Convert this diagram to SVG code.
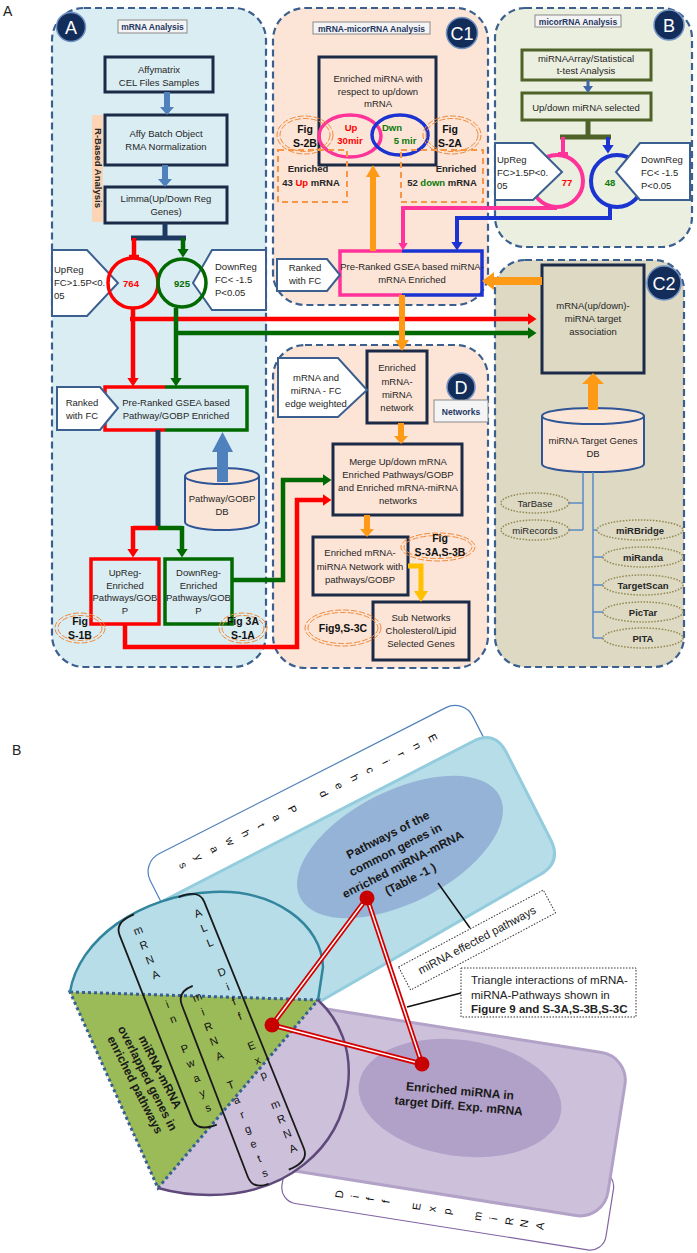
<svg xmlns="http://www.w3.org/2000/svg" width="697" height="1253" viewBox="0 0 697 1253">
<defs>
<style>
text{font-family:"Liberation Sans",Arial,sans-serif}
.t{font-size:9.5px;fill:#262626;text-anchor:middle}
.l{text-anchor:start}
.b{font-weight:bold}
.f{font-size:10.5px;font-weight:bold;fill:#111;text-anchor:middle}
.panel{stroke:#3b5f8f;stroke-width:2.2;stroke-dasharray:7,4}
.box{fill:none;stroke:#1b2a47;stroke-width:3}
.lbl{fill:#f4f4f4;stroke:#8a8a8a;stroke-width:1}
.lt{font-size:8.5px;font-weight:bold;fill:#1f3864;text-anchor:middle}
.badge{fill:#132d5a;stroke:#7393c4;stroke-width:1.5}
.bt{font-size:18px;fill:#fff;text-anchor:middle}
.pent{fill:#fff;stroke:#3b5f8f;stroke-width:2}
.fig{fill:none;stroke:#f08a3a;stroke-width:1;stroke-dasharray:6,2}
.cyl{fill:#fbe5d6;stroke:#2f5597;stroke-width:2}
.olive{fill:none;stroke:#4f6228;stroke-width:3}
.dot{fill:none;stroke:#948a54;stroke-width:1.5;stroke-dasharray:1.5,1.5}
.red{fill:none;stroke:#ff0000;stroke-width:4.5}
.grn{fill:none;stroke:#006a00;stroke-width:4.5}
.nav{fill:none;stroke:#1f3a60;stroke-width:5}
.pink{fill:none;stroke:#ff3399;stroke-width:4}
.blu{fill:none;stroke:#1a33d1;stroke-width:4}
.org{fill:#ff9a16}
.thin{fill:none;stroke:#5b8bc7;stroke-width:1.5}
.dash{fill:none;stroke:#f79646;stroke-width:2;stroke-dasharray:6,4}
.st{font-size:11px;fill:#111;text-anchor:middle}
.brk{fill:none;stroke:#1a1a1a;stroke-width:1.8}
.bt2{font-size:12px;font-weight:bold;fill:#1a1a1a;text-anchor:middle}
.cap{fill:#fff;stroke:#333;stroke-width:1;stroke-dasharray:1.5,1.5}
.ct{font-size:11.5px;fill:#222}
</style>
<marker id="mR" viewBox="0 0 9 12" refX="0.5" refY="6" markerWidth="9" markerHeight="12" markerUnits="userSpaceOnUse" orient="auto"><path d="M0,0 L9,6 L0,12 z" fill="#ff0000"/></marker>
<marker id="mG" viewBox="0 0 9 12" refX="0.5" refY="6" markerWidth="9" markerHeight="12" markerUnits="userSpaceOnUse" orient="auto"><path d="M0,0 L9,6 L0,12 z" fill="#006a00"/></marker>
<marker id="mP" viewBox="0 0 8 10" refX="0.5" refY="5" markerWidth="8" markerHeight="10" markerUnits="userSpaceOnUse" orient="auto"><path d="M0,0 L8,5 L0,10 z" fill="#ff3399"/></marker>
<marker id="mB" viewBox="0 0 9 12" refX="0.5" refY="6" markerWidth="9" markerHeight="12" markerUnits="userSpaceOnUse" orient="auto"><path d="M0,0 L9,6 L0,12 z" fill="#1a33d1"/></marker>
</defs>
<rect width="697" height="1253" fill="#fff"/>
<text x="3" y="16" font-size="14" fill="#222">A</text>
<text x="12" y="755" font-size="14" fill="#222">B</text>

<!-- Panels -->
<g id="panelA">
<rect x="52" y="8" width="214" height="659" rx="32" fill="#daedf3" class="panel"/>
<rect class="lbl" x="118" y="20" width="69" height="13"/><text class="lt" x="152.5" y="30">mRNA Analysis</text>
<circle class="badge" cx="71" cy="27" r="14.5"/><text class="bt" x="71" y="33.5">A</text>
</g>
<g id="panelC1">
<rect x="273" y="8" width="215" height="297" rx="32" fill="#fce4d6" class="panel"/>
<rect class="lbl" x="313" y="22" width="117" height="12"/><text class="lt" x="371.5" y="31.5">mRNA-micorRNA Analysis</text>
<circle class="badge" cx="462" cy="33" r="15.5"/><text class="bt" x="462" y="39.5">C1</text>
</g>
<g id="panelB">
<rect x="495" y="8" width="197" height="239" rx="30" fill="#ebefdf" class="panel"/>
<rect class="lbl" x="535" y="15" width="86" height="12"/><text class="lt" x="578" y="24.5">micorRNA Analysis</text>
<circle class="badge" cx="669" cy="25" r="15"/><text class="bt" x="669" y="31.5">B</text>
</g>
<g id="panelC2">
<rect x="495" y="260" width="189" height="407" rx="30" fill="#ddd9c3" class="panel"/>
<circle class="badge" cx="664" cy="283" r="17"/><text class="bt" x="664" y="289.5">C2</text>
</g>
<g id="panelD">
<rect x="273" y="345" width="215" height="323" rx="32" fill="#fce4d6" class="panel"/>
<circle class="badge" cx="461" cy="387" r="14"/><text class="bt" x="461" y="393.5">D</text>
<rect class="lbl" x="434" y="400" width="54" height="22"/><text class="lt" x="461" y="415" font-size="9">Networks</text>
</g>

<!-- Panel A nodes -->
<g id="affy"><rect class="box" x="105" y="57" width="108" height="35"/><text class="t" x="159" y="73">Affymatrix</text><text class="t" x="159" y="86">CEL Files Samples</text></g>
<g id="rbased"><rect x="92" y="115" width="11" height="107" fill="#fbd5b5"/><text class="t b" font-size="8" transform="translate(94.5,168) rotate(90)">R-Based Analysis</text></g>
<g id="affybatch"><rect class="box" x="105" y="115" width="122" height="50"/><text class="t" x="166" y="137">Affy Batch Object</text><text class="t" x="166" y="150">RMA Normalization</text></g>
<g id="limma"><rect class="box" x="105" y="187" width="122" height="36"/><text class="t" x="166" y="202">Limma(Up/Down Reg</text><text class="t" x="166" y="215">Genes)</text></g>
<g id="upA"><path class="pent" d="M52,250 H87 L118,283 L87,316 H52 Z"/><text class="t l" x="54" y="273">UpReg</text><text class="t l" x="54" y="286">FC&gt;1.5P&lt;0.</text><text class="t l" x="54" y="299">05</text></g>
<g id="downA"><path class="pent" d="M266,250 H212 L193,283 L212,310 H266 Z"/><text class="t l" x="215" y="270">DownReg</text><text class="t l" x="215" y="283">FC&lt; -1.5</text><text class="t l" x="215" y="296">P&lt;0.05</text></g>
<g id="c764"><circle cx="133" cy="283" r="25" fill="none" stroke="#ff0000" stroke-width="3.5"/><text class="t b" x="131" y="287" style="fill:#ff0000">764</text></g>
<g id="c925"><circle cx="182" cy="283" r="24" fill="none" stroke="#006a00" stroke-width="3.5"/><text class="t b" x="182" y="287" style="fill:#006a00">925</text></g>
<g id="gseaA"><path d="M165,387 H105 V430 H165" fill="none" stroke="#ff0000" stroke-width="3.5"/><path d="M165,387 H247 V430 H165" fill="none" stroke="#006a00" stroke-width="3.5"/><text class="t" x="176" y="406">Pre-Ranked GSEA based</text><text class="t" x="176" y="419">Pathway/GOBP Enriched</text></g>
<g id="rankA"><path class="pent" d="M57,387 H100 L118,408 L100,430 H57 Z"/><text class="t" x="82" y="406">Ranked</text><text class="t" x="82" y="419">with FC</text></g>
<g id="pathdb"><path class="cyl" d="M185,476 V522 A37,8 0 0 0 259,522 V476"/><ellipse class="cyl" cx="222" cy="476" rx="37" ry="8"/><text class="t" x="222" y="502">Pathway/GOBP</text><text class="t" x="222" y="515">DB</text></g>
<g id="upEnr"><rect x="91" y="559" width="68" height="65" fill="none" stroke="#ff0000" stroke-width="3.5"/><text class="t" x="125" y="576">UpReg-</text><text class="t" x="125" y="589">Enriched</text><text class="t" x="125" y="601">Pathways/GOB</text><text class="t" x="125" y="614">P</text></g>
<g id="downEnr"><rect x="165" y="559" width="67" height="65" fill="none" stroke="#006a00" stroke-width="3.5"/><text class="t" x="198.5" y="576">DownReg-</text><text class="t" x="198.5" y="589">Enriched</text><text class="t" x="198.5" y="601">Pathways/GOB</text><text class="t" x="198.5" y="614">P</text></g>
<g id="figS1B"><ellipse class="fig" cx="80" cy="628" rx="25" ry="15"/><ellipse class="fig" cx="80" cy="628" rx="22" ry="12.5"/><text class="f" x="80" y="625">Fig</text><text class="f" x="80" y="639">S-1B</text></g>
<g id="figS1A"><ellipse class="fig" cx="243" cy="628" rx="24" ry="15"/><ellipse class="fig" cx="243" cy="628" rx="21" ry="12.5"/><text class="f" x="243" y="625">Fig 3A</text><text class="f" x="243" y="639">S-1A</text></g>

<!-- C1 nodes -->
<g id="enrMir"><rect class="box" x="319" y="57" width="117" height="108"/><text class="t" x="378" y="82">Enriched miRNA with</text><text class="t" x="378" y="95">respect to up/down</text><text class="t" x="378" y="107">mRNA</text>
<ellipse cx="350" cy="136" rx="31" ry="21" fill="none" stroke="#ff3399" stroke-width="3.5"/><ellipse cx="400" cy="135" rx="28" ry="20" fill="none" stroke="#1a33d1" stroke-width="3.5"/>
<text class="t b" x="351" y="131" style="fill:#ff0000">Up</text><text class="t b" x="350" y="144" style="fill:#ff0000">30mir</text><text class="t b" x="392" y="131" style="fill:#0a7a0a">Dwn</text><text class="t b" x="405" y="144" style="fill:#0a7a0a">5 mir</text></g>
<g id="figS2B"><ellipse class="fig" cx="305" cy="135" rx="28" ry="19"/><ellipse class="fig" cx="305" cy="135" rx="25" ry="16.5"/><text class="f" x="305" y="133">Fig</text><text class="f" x="305" y="147">S-2B</text></g>
<g id="figS2A"><ellipse class="fig" cx="452" cy="135" rx="29" ry="19"/><ellipse class="fig" cx="452" cy="135" rx="26" ry="16.5"/><text class="f" x="450" y="133">Fig</text><text class="f" x="450" y="147">S-2A</text></g>
<g id="enr43"><rect class="dash" x="278" y="150" width="69" height="52"/><text class="t b" x="308" y="172">Enriched</text><text class="t b" x="311" y="186">43 <tspan style="fill:#ff0000">Up</tspan> mRNA</text></g>
<g id="enr52"><rect class="dash" x="401" y="150" width="82" height="52"/><text class="t b" x="456" y="172">Enriched</text><text class="t b" x="442" y="186">52 <tspan style="fill:#0a7a0a">down</tspan> mRNA</text></g>
<g id="gseaMir"><path d="M402,251 H340 V295 H402" fill="none" stroke="#ff3399" stroke-width="3.5"/><path d="M402,251 H482 V295 H402" fill="none" stroke="#1a33d1" stroke-width="3.5"/><text class="t" x="412" y="270">Pre-Ranked GSEA based miRNA-</text><text class="t" x="412" y="283">mRNA  Enriched</text></g>
<g id="rankC1"><path class="pent" d="M277,259 H327 L340,275 L327,291 H277 Z"/><text class="t" x="305" y="271">Ranked</text><text class="t" x="305" y="284">with FC</text></g>

<!-- B nodes -->
<g id="miArray"><rect class="olive" x="522" y="50" width="129" height="30"/><text class="t" x="586" y="62">miRNAArray/Statistical</text><text class="t" x="586" y="74">t-test Analysis</text></g>
<g id="miSel"><rect class="olive" x="522" y="93" width="129" height="27"/><text class="t" x="586" y="111">Up/down miRNA selected</text></g>
<g id="c77"><circle cx="557" cy="181" r="26" fill="none" stroke="#ff3399" stroke-width="4"/><text class="t b" x="567" y="186" style="fill:#ff0000">77</text></g>
<g id="c48"><circle cx="617" cy="181" r="26" fill="none" stroke="#1a33d1" stroke-width="4"/><text class="t b" x="610" y="186" style="fill:#0a7a0a">48</text></g>
<g id="upB"><path class="pent" d="M495,143 H533 L562,172 L533,200 H495 Z"/><text class="t l" x="497" y="163">UpReg</text><text class="t l" x="497" y="176">FC&gt;1.5P&lt;0.</text><text class="t l" x="497" y="189">05</text></g>
<g id="downB"><path class="pent" d="M690,143 H640 L616,172 L640,200 H690 Z"/><text class="t l" x="641" y="163">DownReg</text><text class="t l" x="641" y="176">FC&lt; -1.5</text><text class="t l" x="641" y="189">P&lt;0.05</text></g>

<!-- C2 nodes -->
<g id="assoc"><rect class="box" x="542" y="265" width="102" height="108"/><text class="t" x="593" y="309">mRNA(up/down)-</text><text class="t" x="593" y="322">miRNA target</text><text class="t" x="593" y="335">association</text></g>
<g id="tgdb"><path class="cyl" d="M542,416 V464 A51,8 0 0 0 644,464 V416"/><ellipse class="cyl" cx="593" cy="416" rx="51" ry="8"/><text class="t" x="593" y="444">miRNA Target Genes</text><text class="t" x="593" y="457">DB</text></g>
<g id="dbs">
<ellipse class="dot" cx="535" cy="503" rx="34" ry="10"/><text class="t" x="535" y="507">TarBase</text>
<ellipse class="dot" cx="535" cy="530" rx="34" ry="10"/><text class="t" x="535" y="534">miRecords</text>
<ellipse class="dot" cx="640" cy="530" rx="43" ry="10"/><text class="t b" x="640" y="534">miRBridge</text>
<ellipse class="dot" cx="643" cy="557" rx="40" ry="10"/><text class="t b" x="643" y="561">miRanda</text>
<ellipse class="dot" cx="643" cy="585" rx="40" ry="10"/><text class="t b" x="643" y="589">TargetScan</text>
<ellipse class="dot" cx="643" cy="612" rx="40" ry="10"/><text class="t b" x="643" y="616">PicTar</text>
<ellipse class="dot" cx="643" cy="638" rx="40" ry="10"/><text class="t b" x="643" y="642">PITA</text>
</g>

<!-- D nodes -->
<g id="netw"><rect class="box" x="367" y="351" width="60" height="72"/><text class="t" x="397" y="371">Enriched</text><text class="t" x="397" y="385">mRNA-</text><text class="t" x="397" y="398">miRNA</text><text class="t" x="397" y="411">network</text></g>
<g id="fcw"><path class="pent" d="M278,358 H338 L367,390 L338,417 H278 Z"/><text class="t" x="316" y="381">mRNA and</text><text class="t" x="316" y="394">miRNA - FC</text><text class="t" x="316" y="407">edge weighted</text></g>
<g id="merge"><rect class="box" x="333" y="444" width="129" height="71"/><text class="t" x="398" y="465">Merge Up/down mRNA</text><text class="t" x="398" y="478">Enriched Pathways/GOBP</text><text class="t" x="398" y="491">and Enriched mRNA-miRNA</text><text class="t" x="398" y="504">networks</text></g>
<g id="netpw"><rect class="box" x="313" y="537" width="95" height="58"/><text class="t" x="360" y="556">Enriched mRNA-</text><text class="t" x="360" y="570">miRNA Network with</text><text class="t" x="360" y="583">pathways/GOBP</text></g>
<g id="figS3"><ellipse class="fig" cx="438" cy="547" rx="37" ry="14"/><ellipse class="fig" cx="438" cy="547" rx="34" ry="11.5"/><text class="f" x="440" y="542">Fig</text><text class="f" x="440" y="556">S-3A,S-3B</text></g>
<g id="sub"><rect class="box" x="373" y="602" width="96" height="58"/><text class="t" x="421" y="621">Sub Networks</text><text class="t" x="421" y="634">Cholesterol/Lipid</text><text class="t" x="421" y="647">Selected Genes</text></g>
<g id="fig9"><ellipse class="fig" cx="343" cy="628" rx="38" ry="18"/><ellipse class="fig" cx="343" cy="628" rx="35" ry="15.5"/><text class="f" x="343" y="632">Fig9,S-3C</text></g>

<!-- Connectors -->
<g id="connectors">
<path d="M164,92 H170 V107 H174 L167,115 L160,107 H164 Z" fill="#4f81bd"/>
<path d="M162,165 H168 V179 H172 L165,187 L158,179 H162 Z" fill="#4f81bd"/>
<path class="nav" d="M165,223 V238 M131,238 H186"/>
<path class="red" d="M134,238 V257 M129,257 H139"/>
<path class="grn" d="M183,238 V249" marker-end="url(#mG)"/>
<path class="red" d="M130,319 H528" marker-end="url(#mR)"/>
<path class="red" d="M133,308 V378" marker-end="url(#mR)"/>
<path class="grn" d="M176,333 H528" marker-end="url(#mG)"/>
<path class="grn" d="M176,308 V378" marker-end="url(#mG)"/>
<path class="nav" d="M158,430 V528"/>
<path class="red" d="M133,528 H158"/><path class="grn" d="M158,528 H182"/>
<path class="red" d="M133,526 V549" marker-end="url(#mR)"/>
<path class="grn" d="M182,526 V549" marker-end="url(#mG)"/>
<path d="M217,482 V452 H212 L222.5,432 L233,452 H228 V482 Z" fill="#4f81bd"/>
<path class="red" d="M125,624 V647 H297 V500 H323" marker-end="url(#mR)"/>
<path class="grn" d="M232,580 H283 V480 H323" marker-end="url(#mG)"/>
<path d="M370,251 V177 H366 L373,165 L380,177 H376 V251 Z" class="org"/>
<path d="M399,295 V340 H395 L402,351 L409,340 H405 V295 Z" class="org"/>
<path d="M542,277 H494 V272 L482,281 L494,290 V285 H542 Z" class="org"/>
<path d="M588,410 V384 H582 L593,373 L604,384 H598 V410 Z" class="org"/>
<path d="M398,423 V436 H394 L401,444 L408,436 H404 V423 Z" class="org"/>
<path d="M364,515 V529 H360 L367,537 L374,529 H370 V515 Z" class="org"/>
<path d="M408,566 H421 V592" fill="none" stroke="#ffc000" stroke-width="5"/>
<path d="M414,591 H428 L421,602 Z" fill="#ffc000"/>
<path class="pink" d="M557,208 H403 V243" marker-end="url(#mP)"/>
<path class="blu" d="M610,206 V218 H457 V242" marker-end="url(#mB)"/>
<path d="M588,80 V87" stroke="#3f66a8" stroke-width="3"/><path d="M583,86 H593 L588,93 Z" fill="#3f66a8"/>
<path d="M588,120 V137 M560,137 H611" fill="none" stroke="#4f6228" stroke-width="5"/>
<path class="pink" d="M563,137 V154 M558,154 H568"/>
<path class="blu" d="M608,137 V145" marker-end="url(#mB)"/>
<path class="thin" d="M583,472 V530 M583,503 H569 M583,530 H569 M593,472 V638 M593,530 H597 M593,557 H603 M593,585 H603 M593,612 H603 M593,638 H603"/>
</g>

<!-- Part B -->
<g id="tabPath"><rect x="35" y="-44" width="362" height="70" rx="20" fill="#fff" stroke="#4f81bd" stroke-width="1.2" transform="translate(130,918) rotate(-27)"/></g>
<g id="tabDiff"><rect x="137" y="117" width="328" height="80" rx="16" fill="#fff" stroke="#8064a2" stroke-width="1.2" transform="translate(175,985) rotate(9)"/></g>
<g id="blueRect"><path d="M130,918 L472.8,741.5 Q495,730 506.3,752.3 L550.7,839.7 Q562,862 540.3,874.5 L175,1085 Z" fill="#b7dde8" stroke="#93cddd" stroke-width="3"/></g>
<g id="purpleRect"><rect x="0" y="0" width="460" height="165" rx="28" fill="#ccc0da" stroke="#b3a2c7" stroke-width="3" transform="translate(175,985) rotate(9)"/></g>
<g id="bigCircle">
<path d="M70,992 C78,940 140,895 213,892 C275,889 322,925 323,967 L318,1000 C340,1020 352,1050 348,1085 C340,1150 285,1195 210,1195 C190,1195 172,1192 158,1188 Z" fill="#ccc0da"/>
<path d="M70,992 C78,940 140,895 213,892 C275,889 322,925 323,967 L318,1000 Z" fill="#b7dde8"/>
<path d="M70,992 L318,1000 L158,1188 Z" fill="#9bbb59" stroke="#376092" stroke-width="3" stroke-dasharray="3,3"/>
<path d="M70,992 C78,940 140,895 213,892 C275,889 322,925 323,967 L318,1000" fill="none" stroke="#31859c" stroke-width="2.5"/>
<path d="M318,1000 C340,1020 352,1050 348,1085 C340,1150 285,1195 210,1195 C190,1195 172,1192 158,1188" fill="none" stroke="#5f497a" stroke-width="2.5"/>
</g>
<g id="pathEll"><ellipse cx="0" cy="0" rx="112" ry="56" fill="#95b3d7" transform="translate(400,847) rotate(-27)"/>
<text class="bt2" transform="translate(388,835) rotate(-27)"><tspan x="0" y="4">Pathways of the</tspan><tspan x="0" y="20.5">common genes in</tspan><tspan x="0" y="37">enriched  miRNA-mRNA</tspan><tspan x="0" y="53.5">(Table -1 )</tspan></text></g>
<g id="mirEll"><ellipse cx="0" cy="0" rx="102" ry="58" fill="#b1a0c7" transform="translate(460,1098) rotate(8)"/>
<text class="bt2" font-size="11.5" transform="translate(460,1091) rotate(5)"><tspan x="0" y="4">Enriched miRNA in</tspan><tspan x="0" y="19">target Diff. Exp. mRNA</tspan></text></g>
<g id="brackets">
<g transform="translate(138,930) rotate(-21.5)"><path class="brk" d="M2,-16 Q-19,-16 -19,-2 V196 Q-19,210 2,210"/>
<text class="st"><tspan x="0" y="4">m</tspan><tspan x="0" y="19.9">R</tspan><tspan x="0" y="35.8">N</tspan><tspan x="0" y="51.7">A</tspan><tspan x="0" y="83.5">i</tspan><tspan x="0" y="99.4">n</tspan><tspan x="0" y="131.2">P</tspan><tspan x="0" y="147.1">w</tspan><tspan x="0" y="163">a</tspan><tspan x="0" y="178.9">y</tspan><tspan x="0" y="194.8">s</tspan></text></g>
<g transform="translate(198,913) rotate(-22)"><path class="brk" d="M-12,-22 Q10,-22 10,-8 V258 Q10,272 -12,272"/>
<text class="st"><tspan x="0" y="4">A</tspan><tspan x="0" y="19.9">L</tspan><tspan x="0" y="35.7">L</tspan><tspan x="0" y="67.4">D</tspan><tspan x="0" y="83.3">i</tspan><tspan x="0" y="99.1">f</tspan><tspan x="0" y="115">f</tspan><tspan x="0" y="146.7">E</tspan><tspan x="0" y="162.5">x</tspan><tspan x="0" y="178.4">p</tspan><tspan x="0" y="210.1">m</tspan><tspan x="0" y="226">R</tspan><tspan x="0" y="241.8">N</tspan><tspan x="0" y="257.6">A</tspan></text></g>
<g transform="translate(197,997) rotate(-21)"><path class="brk" d="M0,-12 Q-17,-12 -17,2 V186 Q-17,200 0,200"/>
<text class="st"><tspan x="0" y="4">m</tspan><tspan x="0" y="19.7">i</tspan><tspan x="0" y="35.4">R</tspan><tspan x="0" y="51.1">N</tspan><tspan x="0" y="66.8">A</tspan><tspan x="0" y="98.2">T</tspan><tspan x="0" y="113.9">a</tspan><tspan x="0" y="129.6">r</tspan><tspan x="0" y="145.3">g</tspan><tspan x="0" y="161">e</tspan><tspan x="0" y="176.7">t</tspan><tspan x="0" y="192.4">s</tspan></text></g>
</g>
<g id="greenText"><text class="bt2" font-size="11" transform="translate(160,1072) rotate(63)"><tspan x="0" y="4">miRNA-mRNA</tspan><tspan x="0" y="18">overlapped genes in</tspan><tspan x="0" y="32">enriched pathways</tspan></text></g>
<g id="tabLetters">
<text class="st" transform="translate(433,738) rotate(63)"><tspan x="0" y="4">E</tspan><tspan x="0" y="21.5">n</tspan><tspan x="0" y="39">r</tspan><tspan x="0" y="56.5">i</tspan><tspan x="0" y="74">c</tspan><tspan x="0" y="91.5">h</tspan><tspan x="0" y="109">e</tspan><tspan x="0" y="126.5">d</tspan><tspan x="0" y="161.5">P</tspan><tspan x="0" y="179">a</tspan><tspan x="0" y="196.5">t</tspan><tspan x="0" y="214">h</tspan><tspan x="0" y="231.5">w</tspan><tspan x="0" y="249">a</tspan><tspan x="0" y="266.5">y</tspan><tspan x="0" y="284">s</tspan></text>
<text class="st" transform="translate(175,985) rotate(9) translate(195,181) rotate(-90)"><tspan x="0" y="4">D</tspan><tspan x="0" y="19.6">i</tspan><tspan x="0" y="35">f</tspan><tspan x="0" y="50.8">f</tspan><tspan x="0" y="82">E</tspan><tspan x="0" y="97.6">x</tspan><tspan x="0" y="113">p</tspan><tspan x="0" y="144">m</tspan><tspan x="0" y="160">i</tspan><tspan x="0" y="176">R</tspan><tspan x="0" y="191">N</tspan><tspan x="0" y="207">A</tspan></text>
</g>
<g id="triangle">
<path d="M367,898 L272,1025 L422,1064 Z" fill="none" stroke="#d40000" stroke-width="5" stroke-linejoin="round"/>
<path d="M367,898 L272,1025 L422,1064 Z" fill="none" stroke="#fff" stroke-width="1.5"/>
<circle cx="367" cy="898" r="7.5" fill="#c80000"/><circle cx="272" cy="1025" r="7.5" fill="#c80000"/><circle cx="422" cy="1064" r="7.5" fill="#c80000"/>
</g>
<g id="callouts">
<path d="M438,883 L470,928 M461,993 L407,1007" stroke="#111" stroke-width="1.5"/>
<g transform="translate(477,940) rotate(-28)"><rect class="cap" x="-82" y="-13" width="164" height="26"/><text class="ct" x="0" y="4" text-anchor="middle">miRNA effected pathways</text></g>
<rect class="cap" x="461" y="968" width="175" height="49"/>
<text class="ct" x="471" y="984">Triangle interactions of mRNA-</text>
<text class="ct" x="471" y="999">miRNA-Pathways shown in</text>
<text class="ct" x="471" y="1013" font-weight="bold">Figure 9 and S-3A,S-3B,S-3C</text>
</g>
</svg>
